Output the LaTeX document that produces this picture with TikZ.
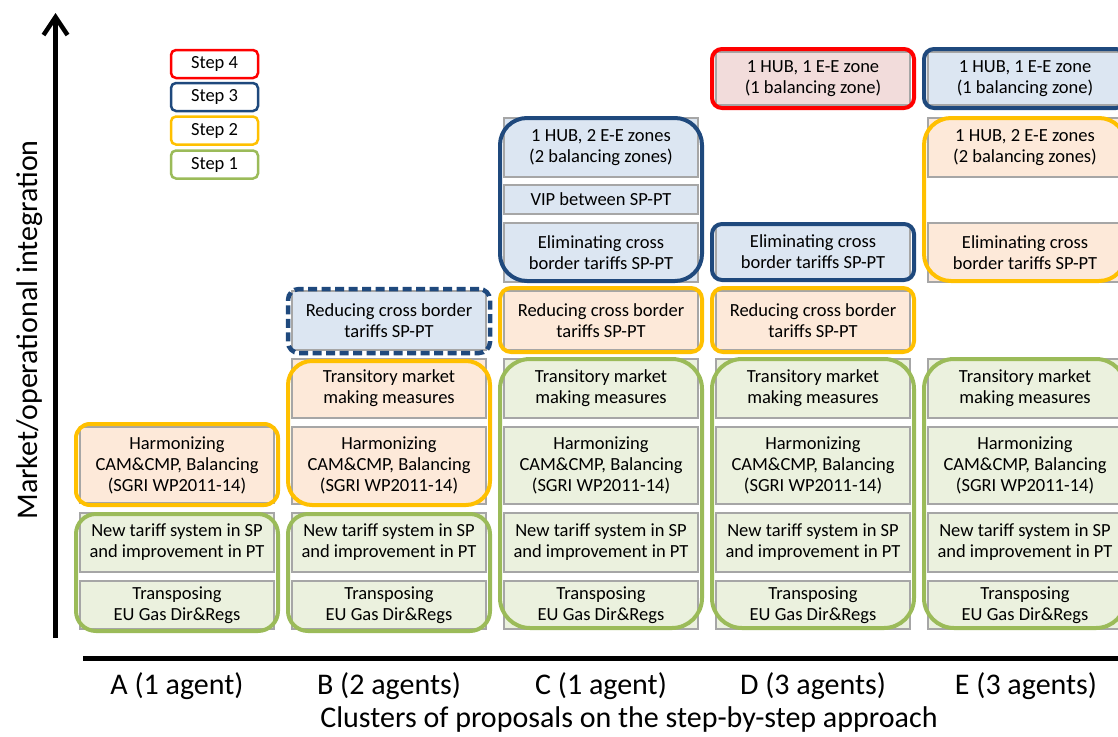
\documentclass[tikz,border=0pt]{standalone}
\usepackage{fontspec}
\setmainfont{Carlito}
\usetikzlibrary{arrows.meta}
\definecolor{gB}{HTML}{9BBB59}
\definecolor{oB}{HTML}{FFC000}
\definecolor{bB}{HTML}{1F497D}
\definecolor{rB}{HTML}{FF0000}
\definecolor{gF}{HTML}{EBF1DE}
\definecolor{oF}{HTML}{FDE9D9}
\definecolor{bF}{HTML}{DCE6F2}
\definecolor{rF}{HTML}{F2DCDB}
\definecolor{inG}{HTML}{A6A6A6}
\newcommand\ibox[7]{%
  \node[inbox,#6,minimum width={(#4-#2)*1pt},minimum height={(#5-#3)*1pt}] (#1) at ({(#2+#4)/2},{(#3+#5)/2}) {#7};}
\newcommand\obox[6]{%
  \node[outbox,#6,minimum width={(#4-#2)*1pt},minimum height={(#5-#3)*1pt}] (#1) at ({(#2+#4)/2},{(#3+#5)/2}) {};}
\tikzset{
  inbox/.style={draw=inG,line width=1.3pt,rectangle,align=center,inner sep=0pt,outer sep=0pt,
    font=\fontsize{18.5}{21}\selectfont},
  gfill/.style={fill=gF},
  ofill/.style={fill=oF},
  bfill/.style={fill=bF},
  rfill/.style={fill=rF},
  outbox/.style={rectangle,line width=4pt,inner sep=0pt,outer sep=0pt},
  gout/.style={draw=gB},
  oout/.style={draw=oB},
  bout/.style={draw=bB},
  rout/.style={draw=rB},
  legbox/.style={rectangle,line width=2.5pt,rounded corners=5pt,inner sep=0pt,
    font=\fontsize{18.5}{21}\selectfont},
  axlab/.style={font=\fontsize{30}{34}\selectfont,inner sep=0pt},
  axisline/.style={line width=4.5pt,black}
}
\begin{document}
\begin{tikzpicture}[x=1pt,y=-1pt]
\useasboundingbox (0,0) rectangle (1118,736);
% ---------- inner boxes ----------
% column A
\ibox{harmA}{80}{427}{274}{503}{ofill}{Harmonizing\\CAM\&CMP, Balancing\\(SGRI WP2011-14)}
\ibox{ntA}{80}{513}{274}{572}{gfill}{New tariff system in SP\\and improvement in PT}
\ibox{trA}{80}{581}{274}{629}{gfill}{Transposing\\EU Gas Dir\&Regs}
% column B
\ibox{redB}{292}{291}{486}{350}{bfill}{Reducing cross border\\tariffs SP-PT}
\ibox{tmB}{292}{359}{486}{418}{ofill}{Transitory market\\making measures}
\ibox{harmB}{292}{427}{486}{504}{ofill}{Harmonizing\\CAM\&CMP, Balancing\\(SGRI WP2011-14)}
\ibox{ntB}{292}{513}{486}{572}{gfill}{New tariff system in SP\\and improvement in PT}
\ibox{trB}{292}{581}{486}{629}{gfill}{Transposing\\EU Gas Dir\&Regs}
% column C
\ibox{hubC}{504}{118}{698}{177}{bfill}{1 HUB, 2 E-E zones\\(2 balancing zones)}
\ibox{vipC}{504}{185}{698}{214}{bfill}{VIP between SP-PT}
\ibox{elC}{504}{223}{698}{282}{bfill}{Eliminating cross\\border tariffs SP-PT}
\ibox{redC}{504}{291}{698}{350}{ofill}{Reducing cross border\\tariffs SP-PT}
\ibox{tmC}{504}{359}{698}{418}{gfill}{Transitory market\\making measures}
\ibox{harmC}{504}{427}{698}{504}{gfill}{Harmonizing\\CAM\&CMP, Balancing\\(SGRI WP2011-14)}
\ibox{ntC}{504}{513}{698}{572}{gfill}{New tariff system in SP\\and improvement in PT}
\ibox{trC}{504}{581}{698}{629}{gfill}{Transposing\\EU Gas Dir\&Regs}
% column D
\ibox{hubD}{716}{52}{910}{105}{rfill}{1 HUB, 1 E-E zone\\(1 balancing zone)}
\ibox{elD}{716}{225}{910}{279}{bfill}{Eliminating cross\\border tariffs SP-PT}
\ibox{redD}{716}{291}{910}{350}{ofill}{Reducing cross border\\tariffs SP-PT}
\ibox{tmD}{716}{359}{910}{418}{gfill}{Transitory market\\making measures}
\ibox{harmD}{716}{427}{910}{504}{gfill}{Harmonizing\\CAM\&CMP, Balancing\\(SGRI WP2011-14)}
\ibox{ntD}{716}{513}{910}{572}{gfill}{New tariff system in SP\\and improvement in PT}
\ibox{trD}{716}{581}{910}{629}{gfill}{Transposing\\EU Gas Dir\&Regs}
% column E
\ibox{hubE}{928}{52}{1122}{105}{bfill}{1 HUB, 1 E-E zone\\(1 balancing zone)}
\ibox{hub2E}{928}{118}{1122}{177}{ofill}{1 HUB, 2 E-E zones\\(2 balancing zones)}
\ibox{elE}{928}{223}{1122}{282}{ofill}{Eliminating cross\\border tariffs SP-PT}
\ibox{tmE}{928}{359}{1122}{418}{gfill}{Transitory market\\making measures}
\ibox{harmE}{928}{427}{1122}{504}{gfill}{Harmonizing\\CAM\&CMP, Balancing\\(SGRI WP2011-14)}
\ibox{ntE}{928}{513}{1122}{572}{gfill}{New tariff system in SP\\and improvement in PT}
\ibox{trE}{928}{581}{1122}{629}{gfill}{Transposing\\EU Gas Dir\&Regs}
% ---------- outer (step) boxes ----------
\obox{oA}{76}{424}{278}{505}{oout,rounded corners=14pt}
\obox{gA}{76}{514}{278}{631}{gout,rounded corners=20pt}
\obox{dB}{288}{289}{490}{353}{bout,rounded corners=11pt,line width=4.5pt,dash pattern=on 9pt off 4.5pt}
\obox{oBx}{288}{361}{490}{505}{oout,rounded corners=24pt}
\obox{gBx}{288}{514}{490}{631}{gout,rounded corners=20pt}
\obox{bC}{500}{118}{702}{281}{bout,rounded corners=27pt}
\obox{oC}{500}{288}{702}{352}{oout,rounded corners=11pt}
\obox{gC}{500}{359}{702}{628}{gout,rounded corners=30pt}
\obox{rD}{712}{49}{914}{108}{rout,rounded corners=10pt}
\obox{bD}{712}{224}{914}{280}{bout,rounded corners=10pt}
\obox{oD}{712}{288}{914}{352}{oout,rounded corners=11pt}
\obox{gD}{712}{359}{914}{628}{gout,rounded corners=30pt}
\obox{bE}{924}{49}{1126}{108}{bout,rounded corners=10pt}
\obox{oE}{924}{118}{1126}{281}{oout,rounded corners=27pt}
\obox{gE}{924}{359}{1126}{628}{gout,rounded corners=30pt}
% ---------- legend ----------
\node[legbox,draw=rB,minimum width=87pt,minimum height=28pt] (st4) at (214.5,64) {Step 4};
\node[legbox,draw=bB,minimum width=87pt,minimum height=28pt] (st3) at (214.5,97) {Step 3};
\node[legbox,draw=oB,minimum width=87pt,minimum height=28pt] (st2) at (214.5,130.5) {Step 2};
\node[legbox,draw=gB,minimum width=87pt,minimum height=28pt] (st1) at (214.5,164.5) {Step 1};
% ---------- axes ----------
\coordinate (ybot) at (55.5,638);
\coordinate (ytop) at (55.5,13);
\coordinate (xl) at (83,658.5);
\coordinate (xr) at (1118,658.5);
\draw[axisline,-{Straight Barb[length=18pt,width=24pt,line width=4.5pt]}] (ybot) -- (ytop);
\draw[axisline] (xl) -- (xr);
\node[axlab,rotate=90] (ylab) at (30,330) {Market/operational integration};
\node[axlab] (labA) at (177,686) {A (1 agent)};
\node[axlab] (labB) at (389,686) {B (2 agents)};
\node[axlab] (labC) at (601,686) {C (1 agent)};
\node[axlab] (labD) at (813,686) {D (3 agents)};
\node[axlab] (labE) at (1026,686) {E (3 agents)};
\node[axlab] (xlab) at (629,719) {Clusters of proposals on the step-by-step approach};
\end{tikzpicture}
\end{document}
